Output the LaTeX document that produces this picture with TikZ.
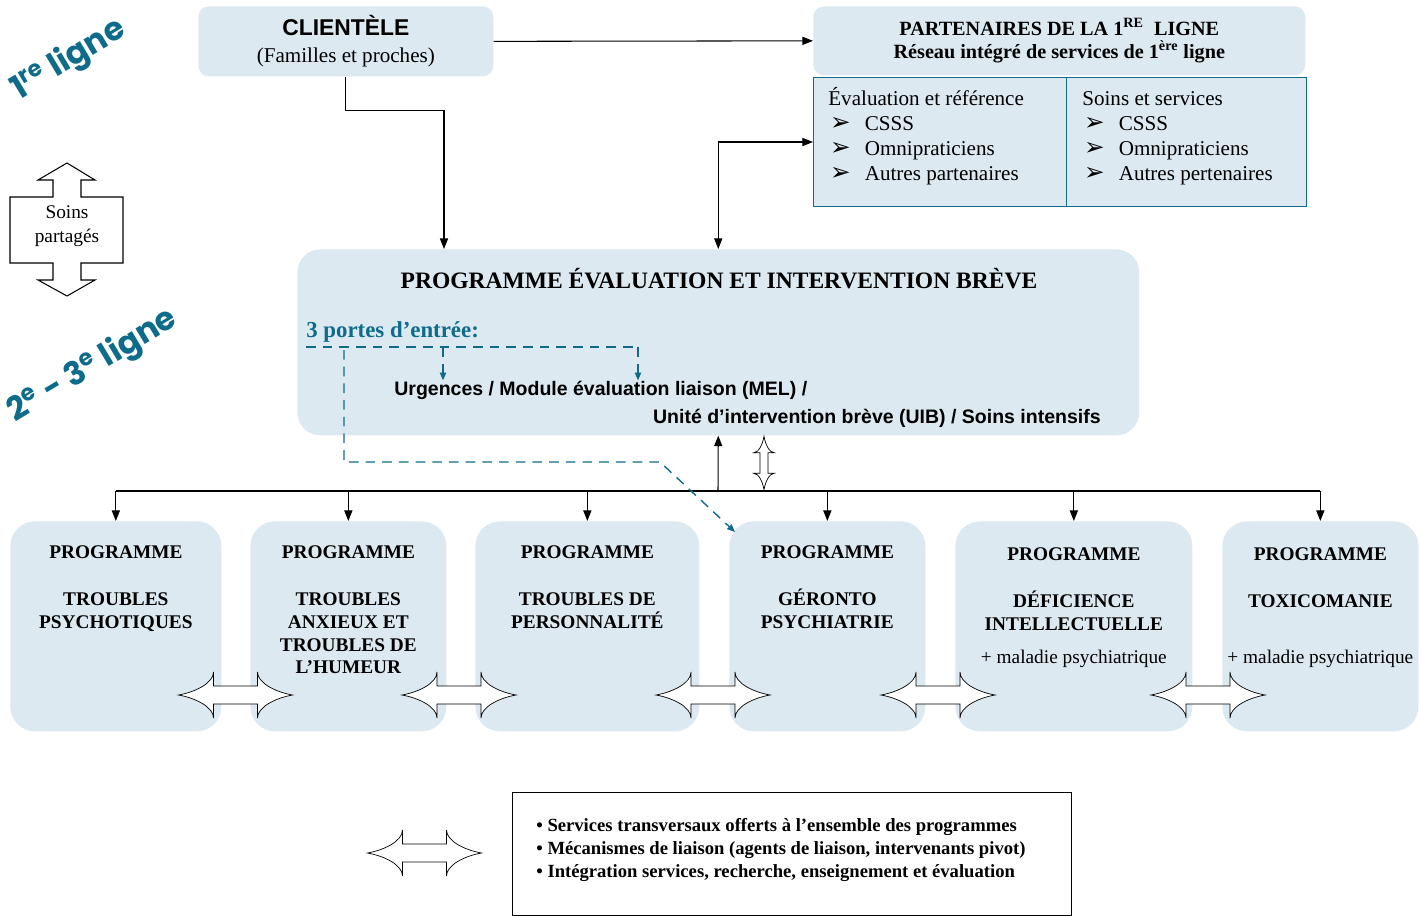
\documentclass[tikz,border=0pt]{standalone}
\usepackage{fontspec}
\setmainfont{Liberation Serif}
\setsansfont{Liberation Sans}
\newfontfamily\symfont{DejaVu Sans}
\newfontfamily\lignefont{Poppins}
\usetikzlibrary{arrows.meta}
\usetikzlibrary{positioning}
\definecolor{fondbleu}{RGB}{220,233,241}
\definecolor{bleuporte}{RGB}{14,108,138}
\newcommand\puce{\hspace*{1pt}{\symfont\fontsize{14}{10}\selectfont ➢}\hspace{8pt}}
\tikzset{box/.style = {fill=fondbleu, rounded corners=6pt, inner sep=0, anchor=north west}}
\tikzset{cadre/.style = {draw=bleuporte, fill=fondbleu, semithick, inner sep=0, anchor=north west}}
\tikzset{prog/.style = {box, rounded corners=14pt, minimum height=4.2cm}}
\tikzset{progtxt/.style = {anchor=north, align=center, font=\bfseries\fontsize{11}{13}\selectfont}}
\tikzset{fleche/.style = {semithick, -{Triangle[length=6pt,width=4.6pt]}}}
\tikzset{porte/.style = {bleuporte, thick, dash pattern=on 5.5pt off 4pt}}
\tikzset{ligne/.style = {bleuporte, font=\lignefont\bfseries\fontsize{18.5}{18.5}\selectfont, rotate=31}}
\tikzset{liaison/.pic = {
    \draw[fill=white] (-57,0) .. controls (-40,-3) and (-22,-12) .. (-22,-23) -- (-22,-9) -- (22,-9) -- (22,-23)
      .. controls (22,-12) and (40,-3) .. (57,0) .. controls (40,3) and (22,12) .. (22,23) -- (22,9) -- (-22,9)
      -- (-22,23) .. controls (-22,12) and (-40,3) .. (-57,0) -- cycle;
}}

\begin{document}
\begin{tikzpicture}[x=0.02cm,y=-0.02cm]
    \useasboundingbox (0,0) rectangle (1420,916);
    % premiere ligne
    \node[ligne] (premiere) at (69,60) {1\textsuperscript{re} ligne};
    \node[ligne] (deuxieme) at (93,366) {2\textsuperscript{e} - 3\textsuperscript{e} ligne};
    \node[box, minimum width=5.9cm, minimum height=1.4cm, align=center, font=\fontsize{12}{15.3}\selectfont] (client) at (198,6)
        {{\sffamily\bfseries\fontsize{13}{15.3}\selectfont CLIENTÈLE}\\(Familles et proches)};
    \node[box, minimum width=9.84cm, minimum height=1.38cm, align=center, font=\bfseries\fontsize{11.5}{13}\selectfont] (ptitre) at (813,6)
        {PARTENAIRES DE LA 1\textsuperscript{RE}~ LIGNE\\Réseau intégré de services de 1\textsuperscript{ère} ligne};
    \node[cadre, minimum width=5.06cm, minimum height=2.58cm] (eval) at (813,77) {};
    \node[cadre, minimum width=4.8cm, minimum height=2.58cm] (soins) at (1066,77) {};
    \node[anchor=north west, align=left, inner sep=0, font=\fontsize{12}{14.2}\selectfont] (evaltxt) at (828,87)
        {Évaluation et référence\\\puce CSSS\\\puce Omnipraticiens\\\puce Autres partenaires};
    \node[anchor=north west, align=left, inner sep=0, font=\fontsize{12}{14.2}\selectfont] (soinstxt) at (1082,87)
        {\vphantom{É}Soins et services\\\puce CSSS\\\puce Omnipraticiens\\\puce Autres pertenaires};
    % soins partages
    \draw[semithick] (67,163) -- (95,180) -- (81,180) -- (81,197) -- (123,197) -- (123,263) -- (81,263) -- (81,280) -- (95,280)
        -- (67,296) -- (38,280) -- (53,280) -- (53,263) -- (10,263) -- (10,197) -- (53,197) -- (53,180) -- (38,180) -- cycle;
    \node[align=center, font=\fontsize{11}{13.6}\selectfont] (partage) at (67,226) {Soins\\partagés};
    % programme evaluation et intervention breve
    \node[box, rounded corners=13pt, minimum width=16.84cm, minimum height=3.72cm] (peib) at (297,249) {};
    \node[font=\bfseries\fontsize{13.4}{15}\selectfont] (peibtitre) at (719,279) {PROGRAMME ÉVALUATION ET INTERVENTION BRÈVE};
    \node[anchor=base west, inner sep=0, bleuporte, font=\bfseries\fontsize{13}{13}\selectfont] (portes) at (306,337) {3 portes d’entrée:};
    \node[anchor=west, inner sep=0, font=\sffamily\bfseries\fontsize{11.1}{12}\selectfont] (urg) at (394,390) {Urgences / Module évaluation liaison (MEL) /};
    \node[anchor=east, inner sep=0, font=\sffamily\bfseries\fontsize{11.1}{12}\selectfont] (uib) at (1101,418) {Unité d’intervention brève (UIB) / Soins intensifs};
    % programmes
    \foreach \nom/\x/\l in {p1/10/4.22cm, p2/250/3.92cm, p3/475/4.48cm, p4/729/3.92cm, p5/955/4.74cm, p6/1222/3.92cm}
        \node[prog, minimum width=\l] (\nom) at (\x,521) {};
    \node[progtxt, below=0.36cm of p1.north] (t1) {PROGRAMME\\[14pt]TROUBLES\\PSYCHOTIQUES};
    \node[progtxt, below=0.36cm of p2.north] (t2) {PROGRAMME\\[14pt]TROUBLES\\ANXIEUX ET\\TROUBLES DE\\L’HUMEUR};
    \node[progtxt, below=0.36cm of p3.north] (t3) {PROGRAMME\\[14pt]TROUBLES DE\\PERSONNALITÉ};
    \node[progtxt, below=0.36cm of p4.north] (t4) {PROGRAMME\\[14pt]GÉRONTO\\PSYCHIATRIE};
    \node[progtxt, below=0.4cm of p5.north] (t5) {PROGRAMME\\[14pt]DÉFICIENCE\\INTELLECTUELLE\\[6pt]\mdseries + maladie psychiatrique};
    \node[progtxt, below=0.4cm of p6.north] (t6) {PROGRAMME\\[14pt]TOXICOMANIE\\[19pt]\mdseries + maladie psychiatrique};
    % liens
    \coordinate (bus) at (718,491);
    \coordinate (entree) at (444,249);
    \draw[fleche] (client.east) -- (ptitre.west);
    \draw[fleche] (client.south) -- ++(0,34) -| (entree);
    \draw[semithick, {Triangle[length=6pt,width=4.6pt]}-{Triangle[length=6pt,width=4.6pt]}] (peib.north) |- (eval.west);
    \draw[semithick] (p1.north |- bus) -- (p6.north |- bus);
    \foreach \i in {1,...,6}
        \draw[fleche] (p\i.north |- bus) -- (p\i.north);
    \draw[fleche] (bus) -- (peib.south);
    \pic[rotate=90, xscale=0.47, yscale=0.44] at (764,463) {liaison};
    % portes d'entree
    \coordinate (porteG) at (306,347);
    \coordinate (porteA) at (443,347);
    \coordinate (porteD) at (638,347);
    \coordinate (porteV) at (344,350);
    \coordinate (coude) at (660,462);
    \draw[porte] (porteG) -- (porteD);
    \draw[porte, -{Triangle[length=4.5pt,width=3.6pt]}] (porteA) -- (porteA |- urg.north);
    \draw[porte, -{Triangle[length=4.5pt,width=3.6pt]}] (porteD) -- (porteD |- urg.north);
    \draw[porte, -{Triangle[length=4.5pt,width=3.6pt]}] (porteV) |- (coude) -- ([shift={(6,11)}]p4.north west);
    % liaisons entre programmes
    \foreach \x in {235.5,459,713,938,1208}
        \pic at (\x,695) {liaison};
    % legende
    \pic at (424.5,853) {liaison};
    \node[draw, semithick, anchor=north west, inner sep=0, minimum width=11.18cm, minimum height=2.46cm] (legende) at (512,792) {};
    \node[anchor=north west, align=left, inner sep=0, font=\bfseries\fontsize{10.6}{13}\selectfont] (legtxt) at (536,818)
        {• Services transversaux offerts à l’ensemble des programmes\\• Mécanismes de liaison (agents de liaison, intervenants pivot)\\• Intégration services, recherche, enseignement et évaluation};
\end{tikzpicture}
\end{document}
